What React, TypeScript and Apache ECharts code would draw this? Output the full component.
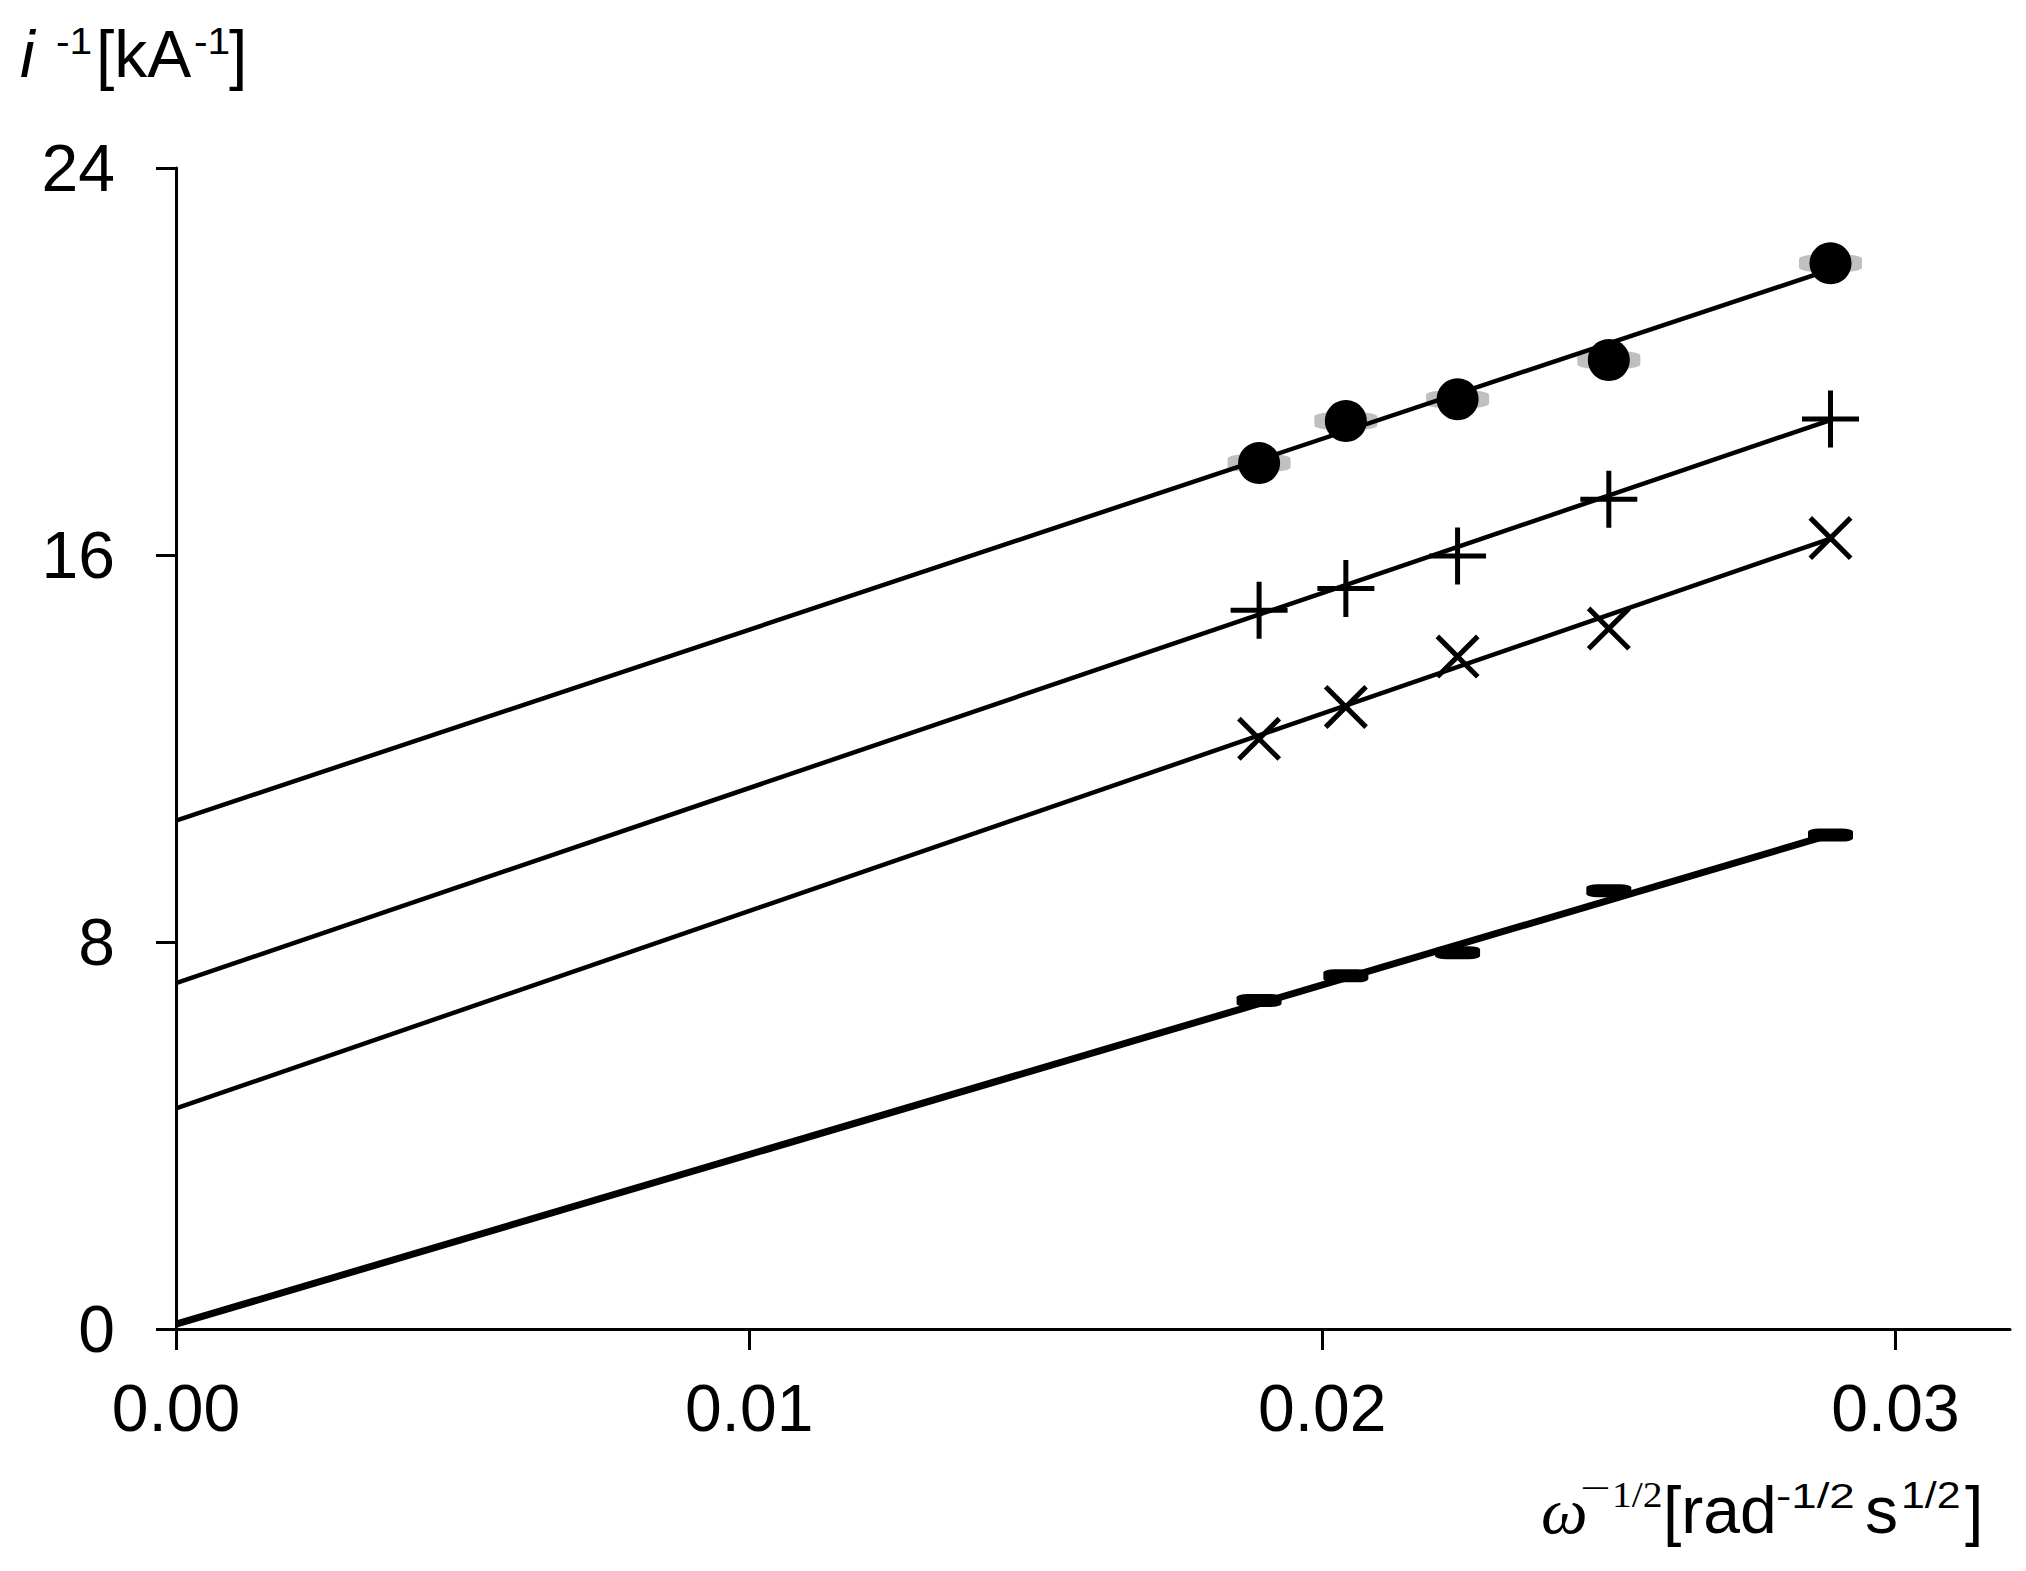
import React, { useEffect, useRef } from 'react';
import * as echarts from 'echarts';

// ---- data ----
const xTickValues = [0, 0.01, 0.02, 0.03];
const omegaInvSqrt = [0.018898, 0.020412, 0.022361, 0.025, 0.028868];
const circleValues = [17.9, 18.77, 19.22, 20.03, 22.03];
const plusValues = [14.86, 15.31, 15.98, 17.15, 18.81];
const crossValues = [12.2, 12.86, 13.9, 14.48, 16.35];
const dashValues = [6.79, 7.3, 7.78, 9.06, 10.21];
const fitX = [0, 0.028868];
const circleFit = [10.51, 21.9];
const plusFit = [7.15, 18.79];
const crossFit = [4.56, 16.34];
const dashFit = [0.1, 10.22];

const SANS = 'Liberation Sans';
const SERIF = 'Liberation Serif';

const PLUS_PATH = 'path://M0,26H57V31H0Z M26,0H31V57H26Z';
const CROSS_PATH = 'path://M0,3.6L3.6,0L44,40.4L40.4,44Z M40.4,0L44,3.6L3.6,44L0,40.4Z';

type T = { t: string; x: number; b: number; s: number; fam: string; it?: boolean; sx?: number };
const titleTexts: T[] = [
  { t: 'i', x: 20, b: 77, s: 66, fam: SANS, it: true },
  { t: '-1', x: 56, b: 54, s: 37, fam: SANS, sx: 1.1 },
  { t: '[kA', x: 96, b: 77, s: 66, fam: SANS },
  { t: '-1', x: 194, b: 54, s: 37, fam: SANS, sx: 1.1 },
  { t: ']', x: 229, b: 77, s: 66, fam: SANS },
  { t: 'ω', x: 1541, b: 1533, s: 66, fam: SERIF, it: true },
  { t: '−', x: 1580, b: 1500, s: 36, fam: SERIF, sx: 1.5 },
  { t: '1/2', x: 1612, b: 1507, s: 36, fam: SERIF, sx: 1.1 },
  { t: '[rad', x: 1663, b: 1533, s: 66, fam: SANS },
  { t: '-1/2', x: 1776, b: 1508, s: 36, fam: SANS, sx: 1.27 },
  { t: 's', x: 1865, b: 1533, s: 66, fam: SANS },
  { t: '1/2', x: 1901, b: 1508, s: 36, fam: SANS, sx: 1.19 },
  { t: ']', x: 1965, b: 1533, s: 66, fam: SANS },
];

const pairs = (xs: number[], ys: number[]) => xs.map((x, i) => [x, ys[i]]);

export default function App() {
  const ref = useRef<HTMLDivElement>(null);
  useEffect(() => {
    if (!ref.current) return;
    const chart = echarts.init(ref.current, undefined, { renderer: 'svg' });
    const fitLine = (ys: number[], w: number) => ({
      type: 'line',
      data: pairs(fitX, ys),
      symbol: 'none',
      silent: true,
      z: 2,
      lineStyle: { color: '#000', width: w },
    });
    const scatter = (ys: number[], symbol: string, size: any, color: string, z: number) => ({
      type: 'scatter',
      data: pairs(omegaInvSqrt, ys),
      symbol,
      symbolSize: size,
      silent: true,
      z,
      itemStyle: { color, opacity: 1 },
    });
    chart.setOption({
      animation: false,
      backgroundColor: '#fff',
      grid: { left: 176, top: 168, right: 16, bottom: 242, containLabel: false },
      xAxis: {
        type: 'value',
        min: 0,
        max: 0.032,
        interval: 0.01,
        splitLine: { show: false },
        axisLine: { show: true, onZero: false, lineStyle: { color: '#000', width: 3 } },
        axisTick: { show: true, inside: false, length: 21, customValues: xTickValues, lineStyle: { color: '#000', width: 3 } },
        axisLabel: {
          customValues: xTickValues,
          margin: 46,
          color: '#000',
          fontSize: 66,
          fontFamily: SANS,
          formatter: (v: number) => v.toFixed(2),
        },
      },
      yAxis: {
        type: 'value',
        min: 0,
        max: 24,
        interval: 8,
        splitLine: { show: false },
        axisLine: { show: true, onZero: false, lineStyle: { color: '#000', width: 3 } },
        axisTick: { show: true, inside: false, length: 20, lineStyle: { color: '#000', width: 3 } },
        axisLabel: { margin: 61, color: '#000', fontSize: 66, fontFamily: SANS },
      },
      graphic: titleTexts.map((e) => ({
        type: 'text',
        x: e.x,
        y: e.b - (e.fam === SANS ? 0.3465 : 0.3375) * e.s,
        scaleX: e.sx || 1,
        silent: true,
        style: {
          text: e.t,
          fill: '#000',
          fontSize: e.s,
          fontFamily: e.fam,
          fontStyle: e.it ? 'italic' : 'normal',
          textAlign: 'left',
          textVerticalAlign: 'middle',
          verticalAlign: 'middle',
        },
      })),
      series: [
        scatter(circleValues, 'roundRect', [63, 17], '#c0c0c0', 1),
        fitLine(circleFit, 4.5),
        fitLine(plusFit, 4.5),
        fitLine(crossFit, 4.5),
        fitLine(dashFit, 7),
        scatter(circleValues, 'circle', 42, '#000', 3),
        scatter(plusValues, PLUS_PATH, 57, '#000', 3),
        scatter(crossValues, CROSS_PATH, 44, '#000', 3),
        scatter(dashValues, 'roundRect', [45, 13], '#000', 3),
      ],
    });
    return () => chart.dispose();
  }, []);
  return (
    <div
      ref={ref}
      style={{ position: 'absolute', left: 0, top: 0, width: 2026, height: 1571, background: '#fff' }}
    />
  );
}
